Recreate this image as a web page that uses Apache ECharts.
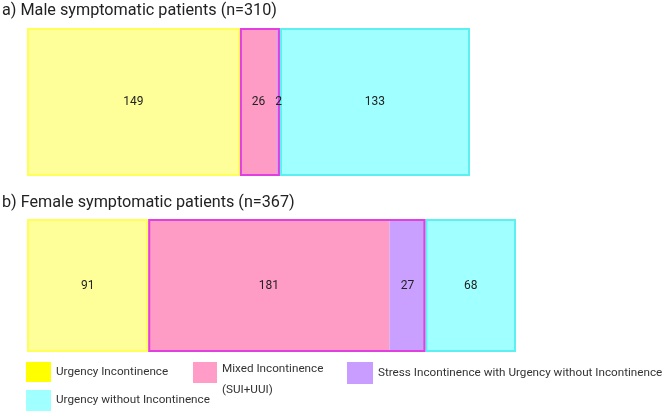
<!DOCTYPE html>
<html>
<head>
<meta charset="utf-8">
<script src="https://cdn.jsdelivr.net/npm/echarts@6/dist/echarts.min.js"></script>
<style>html,body{margin:0;padding:0;background:#fff;}#chart{width:666px;height:415px;}</style>
</head>
<body>
<div id="chart"></div>
<script>
// ---- data ----
const groups = ['Male', 'Female'];
const titles = ['a) Male symptomatic patients (n=310)', 'b) Female symptomatic patients (n=367)'];
const seriesNames = [
  'Urgency Incontinence',
  'Mixed Incontinence (SUI+UUI)',
  'Stress Incontinence with Urgency without Incontinence',
  'Urgency without Incontinence'
];
const maleValues = [149, 26, 2, 133];
const femaleValues = [91, 181, 27, 68];
const totals = [310, 367];

// ---- styling ----
const fills = ['#FFFF99', '#FF9CC6', '#C9A0FF', '#A0FFFF'];
const borders = ['#FFFF5A', null, null, '#5CF0F0'];
const legendColors = ['#FFFF00', '#FF9CC8', '#C99CFF', '#A0FFFF'];
const outlineColor = '#E040E0';
const grids = [
  { left: 27, top: 28, width: 443, height: 148 },
  { left: 27, top: 219, width: 489, height: 133 }
];
const valuesByGroup = [maleValues, femaleValues];

const series = [];
valuesByGroup.forEach((vals, g) => {
  vals.forEach((v, s) => {
    series.push({
      type: 'bar',
      name: seriesNames[s],
      xAxisIndex: g, yAxisIndex: g,
      stack: 'main' + g,
      barWidth: '100%', barGap: '-100%',
      data: [v],
      itemStyle: {
        color: fills[s],
        borderColor: borders[s] || fills[s],
        borderWidth: borders[s] ? 2 : 0
      },
      label: {
        show: true, position: 'inside',
        color: '#222', fontSize: 12, fontFamily: 'Roboto'
      },
      emphasis: { disabled: true },
      silent: true
    });
  });
  // outline around the mixed + stress region
  series.push({
    type: 'bar', name: 'spacer' + g,
    xAxisIndex: g, yAxisIndex: g, stack: 'outline' + g,
    barWidth: '100%', barGap: '-100%',
    data: [vals[0]],
    itemStyle: { color: 'transparent', borderWidth: 0 },
    silent: true
  });
  series.push({
    type: 'bar', name: 'outline' + g,
    xAxisIndex: g, yAxisIndex: g, stack: 'outline' + g,
    barWidth: '100%', barGap: '-100%',
    data: [vals[1] + vals[2]],
    itemStyle: { color: 'transparent', borderColor: outlineColor, borderWidth: 2 },
    silent: true
  });
});

const legendBase = {
  padding: 0, selectedMode: false, icon: 'rect',
  itemStyle: { borderWidth: 0 },
  textStyle: { fontSize: 11.7, color: '#333', fontFamily: 'Roboto' }
};
const legendPos = [
  { left: 26, top: 362, itemWidth: 25, itemHeight: 20 },
  { left: 193, top: 344.5, itemWidth: 24, itemHeight: 21 },
  { left: 347, top: 362, itemWidth: 26, itemHeight: 22 },
  { left: 26, top: 390, itemWidth: 25, itemHeight: 21 }
];
const legends = seriesNames.map((n, i) => {
  const l = Object.assign({}, legendBase, legendPos[i], {
    data: [{ name: n, itemStyle: { color: legendColors[i], borderWidth: 0 } }]
  });
  if (i === 1) {
    l.formatter = (name) => {
      const parts = name.split(' (');
      return '{g| }\n{t|' + parts[0] + '}\n{t|(' + parts[1] + '}';
    };
    l.textStyle = Object.assign({}, legendBase.textStyle, {
      rich: {
        g: { lineHeight: 14, height: 14, fontSize: 11.7 },
        t: { lineHeight: 21, fontSize: 11.7, color: '#333', fontFamily: 'Roboto' }
      }
    });
  }
  return l;
});

const chart = echarts.init(document.getElementById('chart'), null, { renderer: 'canvas' });
chart.setOption({
  animation: false,
  backgroundColor: '#fff',
  title: titles.map((t, i) => ({
    text: t, left: 2, top: i === 0 ? 3 : 195, padding: 0,
    textStyle: { fontSize: 16.2, fontWeight: 'normal', color: '#222', fontFamily: 'Roboto' }
  })),
  legend: legends,
  grid: grids,
  xAxis: groups.map((g, i) => ({
    type: 'value', gridIndex: i, min: 0, max: totals[i], show: false
  })),
  yAxis: groups.map((g, i) => ({
    type: 'category', gridIndex: i, data: [g], show: false
  })),
  series: series
});
</script>
</body>
</html>
